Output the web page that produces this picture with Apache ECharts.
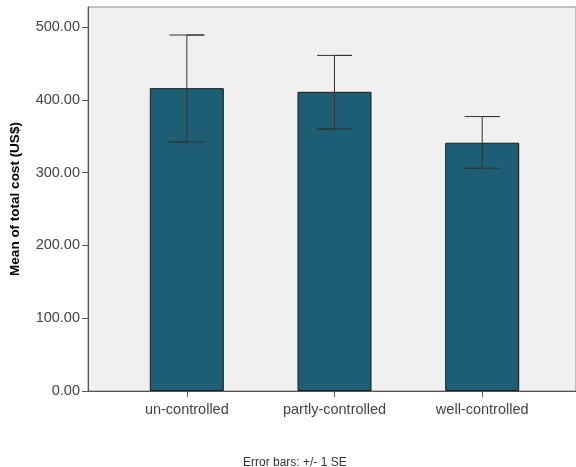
<!DOCTYPE html>
<html><head><meta charset="utf-8">
<script src="https://cdn.jsdelivr.net/npm/echarts@6/dist/echarts.min.js"></script>
<style>html,body{margin:0;padding:0;background:#fff}#c{width:576px;height:467px}</style>
</head><body><div id="c"></div>
<script>
const categories = ['un-controlled', 'partly-controlled', 'well-controlled'];
const means = [416, 411, 341];
const errLow = [342, 360, 306];
const errHigh = [489, 461, 377];
const yTicks = [0, 100, 200, 300, 400, 500];

const chart = echarts.init(document.getElementById('c'));
const labelFont = { fontFamily: 'Arial, "Liberation Sans", sans-serif', fontSize: 14.5, color: '#444' };
chart.setOption({
  animation: false,
  backgroundColor: '#fff',
  title: {
    text: 'Error bars: +/- 1 SE',
    left: 238, top: 452,
    textStyle: { fontFamily: 'Arial, "Liberation Sans", sans-serif', fontSize: 12, fontWeight: 'normal', color: '#333' }
  },
  grid: { left: 87, right: 0, top: 7, bottom: 76, show: true, backgroundColor: '#f0f0f0', borderColor: '#8a8a8a', borderWidth: 1 },
  xAxis: {
    type: 'value', min: -0.669, max: 2.635,
    splitLine: { show: false },
    axisLine: { show: true, onZero: false, lineStyle: { color: '#555', width: 1 } },
    axisTick: { show: true, customValues: [0, 1, 2], length: 6, lineStyle: { color: '#555' } },
    axisLabel: { customValues: [0, 1, 2], formatter: v => categories[Math.round(v)], margin: 11, ...labelFont }
  },
  yAxis: {
    type: 'value', min: 0, max: 527.5,
    name: 'Mean of total cost (US$)', nameLocation: 'middle', nameGap: 66, nameRotate: 90,
    nameTextStyle: { fontFamily: 'Arial, "Liberation Sans", sans-serif', fontSize: 13.5, fontWeight: 'bold', color: '#000' },
    splitLine: { show: false },
    axisLine: { show: true, onZero: false, lineStyle: { color: '#555', width: 1 } },
    axisTick: { show: true, customValues: yTicks, length: 6, lineStyle: { color: '#555' } },
    axisLabel: { customValues: yTicks, formatter: v => v.toFixed(2), margin: 8, ...labelFont }
  },
  series: [
    {
      type: 'bar', barWidth: 74,
      data: means.map((m, i) => [i, m]),
      itemStyle: { color: '#1d5e74', borderColor: '#1a1a1a', borderWidth: 1 }
    },
    {
      type: 'custom',
      encode: { x: 0, y: [1, 2] },
      data: means.map((m, i) => [i, errLow[i], errHigh[i]]),
      renderItem: function (params, api) {
        const x = api.value(0);
        const lo = api.coord([x, api.value(1)]);
        const hi = api.coord([x, api.value(2)]);
        const hw = 17.5;
        const st = { stroke: '#333', lineWidth: 1, fill: null };
        return {
          type: 'polyline',
          shape: { points: [[hi[0] - hw, hi[1]], [hi[0] + hw, hi[1]], [hi[0], hi[1]], [lo[0], lo[1]], [lo[0] - hw, lo[1]], [lo[0] + hw, lo[1]]] },
          style: st
        };
      },
      z: 5
    }
  ]
});
</script></body></html>
